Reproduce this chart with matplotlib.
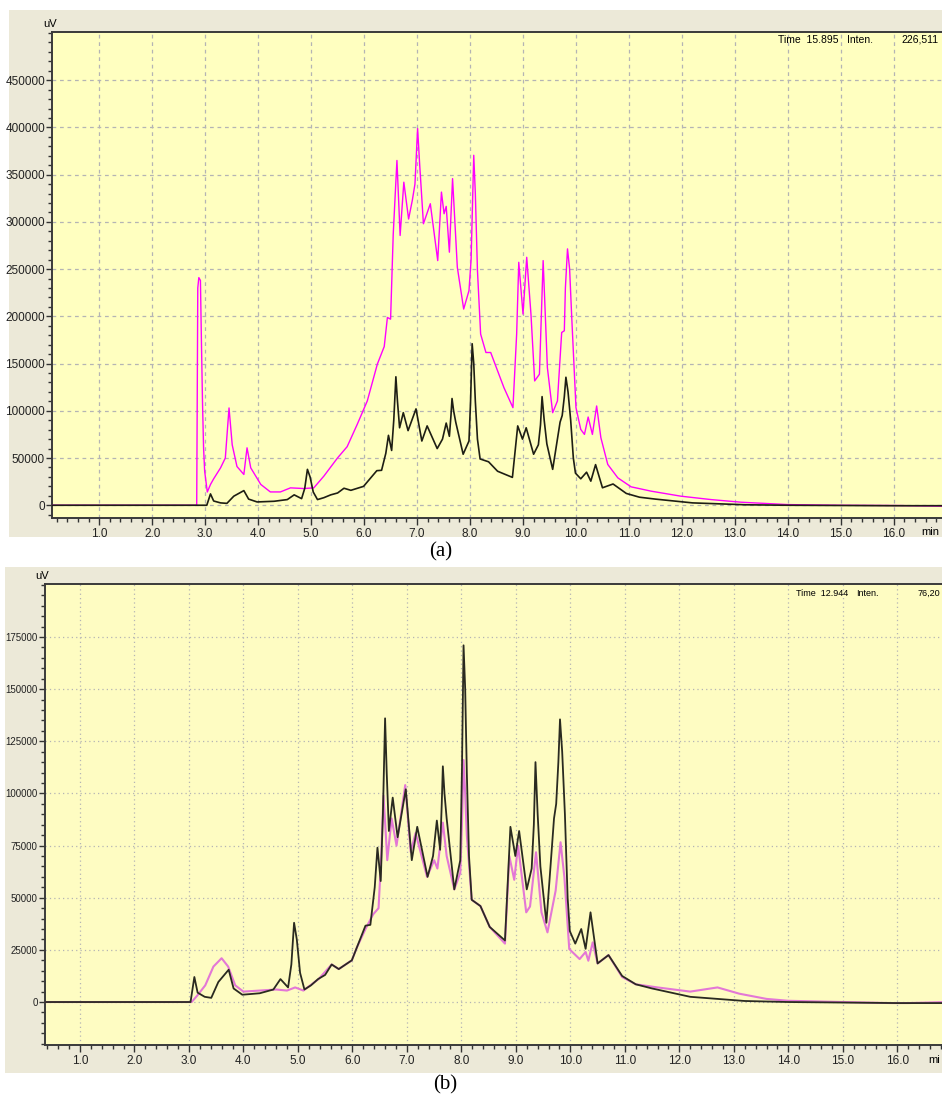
import matplotlib
matplotlib.use("Agg")
import matplotlib.pyplot as plt
from matplotlib.patches import Rectangle
from matplotlib.ticker import MultipleLocator, FixedLocator, FormatStrFormatter

# Black trace (shared by both chromatograms), time in min, intensity in uV
black_t = [0.0, 3.03, 3.10, 3.16, 3.29, 3.41, 3.54, 3.73, 3.82, 3.98, 4.30, 4.55, 4.68,
           4.82, 4.88, 4.93, 4.98, 5.04, 5.12, 5.24, 5.37, 5.50, 5.62, 5.75, 5.99, 6.08, 6.24, 6.33,
           6.41, 6.46, 6.52, 6.56, 6.60, 6.63, 6.67, 6.74, 6.83, 6.98, 7.09, 7.19, 7.38, 7.48, 7.55,
           7.61, 7.64, 7.66, 7.69, 7.73, 7.87, 7.98, 8.01, 8.04, 8.07, 8.10, 8.14, 8.19, 8.35, 8.52,
           8.80, 8.90, 8.99, 9.06, 9.20, 9.29, 9.33, 9.36, 9.40, 9.45, 9.56, 9.70, 9.74, 9.78, 9.81,
           9.85, 9.90, 9.95, 9.99, 10.09, 10.20, 10.28, 10.37, 10.50, 10.70, 10.95, 11.20, 11.50,
           12.20, 13.20, 14.00, 16.00, 16.90]
black_v = [0, 0, 12000, 4500, 2500, 2000, 9600, 15500, 6500, 3500, 4200, 6000, 11000,
           7000, 18000, 38000, 30000, 14000, 6000, 8000, 11000, 13000, 18000, 15800, 20000, 26000, 36600, 37000,
           55000, 74000, 58000, 90000, 136000, 110000, 82000, 98000, 79000, 102000, 68000, 84000, 60000, 70000, 87000,
           73000, 95000, 113000, 100000, 88000, 54000, 68000, 110000, 171000, 150000, 110000, 70000, 49000, 46000, 36000,
           29500, 84000, 70000, 82000, 54000, 64000, 85000, 115000, 90000, 65000, 38000, 88000, 95000, 115000, 135500,
           120000, 90000, 50000, 34000, 28000, 35000, 25500, 43000, 18500, 22500, 12500, 8500, 6500,
           2500, 500, 0, -500, -500]

# Magenta trace, panel (a)
mag_t = [0.0, 2.84, 2.86, 2.88, 2.91, 2.93, 2.95, 2.97, 2.99, 3.04, 3.10, 3.16, 3.29, 3.38, 3.45,
         3.51, 3.60, 3.73, 3.79, 3.86, 4.05, 4.23, 4.42, 4.61, 4.86, 5.05, 5.24, 5.50, 5.68, 5.87,
         6.06, 6.25, 6.38, 6.44, 6.50, 6.55, 6.62, 6.68, 6.75, 6.84, 6.91, 6.96, 7.01, 7.05, 7.12,
         7.25, 7.39, 7.46, 7.51, 7.55, 7.61, 7.67, 7.76, 7.88, 7.98, 8.02, 8.07, 8.10, 8.14, 8.20,
         8.30, 8.39, 8.52, 8.64, 8.81, 8.88, 8.92, 9.00, 9.07, 9.15, 9.22, 9.31, 9.38, 9.46, 9.56,
         9.65, 9.73, 9.78, 9.80, 9.84, 9.88, 9.92, 10.00, 10.09, 10.16, 10.23, 10.31, 10.39, 10.47,
         10.60, 10.79, 11.04, 11.42, 11.98, 12.55, 13.12, 14.00, 14.95, 16.10, 16.90]
mag_v = [0, 0, 230000, 241000, 238000, 170000, 107000, 60000, 36000, 14000, 22000, 28000, 39600, 50000, 103000,
         64000, 41000, 32600, 60800, 39600, 22000, 14100, 14100, 18400, 17700, 18400, 30800, 50200, 62000, 85600,
         110400, 149400, 168000, 198800, 197000, 287000, 365000, 285600, 342000, 303000, 322700, 340000, 398800, 360000, 298000,
         319200, 259000, 331500, 308600, 316400, 267900, 345800, 251900, 207700, 227200, 260000, 370500, 330000, 248400, 181200,
         161700, 161700, 142300, 124500, 103300, 181200, 257200, 202400, 262500, 202400, 131600, 138700, 259000, 145800, 98000,
         110400, 182900, 184700, 230000, 271400, 250000, 198800, 103300, 80300, 75000, 93400, 75000, 105100, 71500,
         43200, 29000, 19500, 14900, 9600, 6000, 3200, 700, 0, -300, -1000]

# Pink trace, panel (b)
pink_t = [0.0, 3.05, 3.15, 3.30, 3.45, 3.60, 3.72, 3.85, 4.00, 4.30, 4.60, 4.80, 4.95, 5.10,
          5.38, 5.62, 5.75, 5.99, 6.08, 6.24, 6.38, 6.48, 6.53, 6.57, 6.61, 6.64, 6.72, 6.81, 6.97, 7.07,
          7.16, 7.37, 7.50, 7.56, 7.66, 7.73, 7.87, 7.98, 8.01, 8.04, 8.07, 8.10, 8.19, 8.35, 8.52, 8.80,
          8.88, 8.97, 9.04, 9.19, 9.26, 9.37, 9.47, 9.58, 9.73, 9.82, 9.89, 9.98, 10.17, 10.28,
          10.33, 10.41, 10.50, 10.70, 10.95, 11.20, 11.60, 12.20, 12.70, 13.10, 13.60, 14.00,
          15.00, 15.90, 16.20, 16.90]
pink_v = [0, 0, 3000, 8000, 17000, 21000, 17000, 8000, 5000, 5500, 6000, 5500, 7000, 5500,
          11000, 18000, 15800, 20000, 26000, 35000, 42000, 45000, 70000, 99000, 82000, 68000, 88000, 75000, 104000, 72000,
          81000, 60000, 68000, 64000, 86000, 70000, 54000, 62000, 85000, 116000, 100000, 80000, 49000, 46000, 36000, 28000,
          70000, 58600, 75000, 43000, 45800, 71800, 43000, 33400, 53400, 76600, 60000, 25400, 20600, 24000,
          19800, 28600, 18500, 22500, 12000, 8500, 7000, 5000, 7000, 4000, 1500, 600,
          0, -500, -500, 0]

W, H = 942, 1099
fig = plt.figure(figsize=(W / 100, H / 100), dpi=100)
fig.patch.set_facecolor("white")

tick_font = ["Liberation Sans Narrow", "Liberation Sans", "DejaVu Sans"]
frame_color = "#ece9d8"


def px_box(x0, y0, x1, y1):
    # pixel box (top-left origin) -> figure fraction [left, bottom, width, height]
    return [x0 / W, 1 - y1 / H, (x1 - x0) / W, (y1 - y0) / H]


def setup_axis(ax, xlim, ylim, yticks, yminor, grid_ls, bg, ysize):
    ax.set_facecolor(bg)
    ax.set_xlim(*xlim)
    ax.set_ylim(*ylim)
    ax.xaxis.set_major_locator(FixedLocator([float(v) for v in range(1, 17)]))
    ax.xaxis.set_minor_locator(MultipleLocator(0.2))
    ax.xaxis.set_major_formatter(FormatStrFormatter("%.1f"))
    ax.yaxis.set_major_locator(FixedLocator(yticks))
    ax.yaxis.set_minor_locator(MultipleLocator(yminor))
    ax.yaxis.set_major_formatter(FormatStrFormatter("%d"))
    ax.grid(True, which="major", color="#b4b4b4", linestyle=grid_ls, linewidth=0.9)
    ax.set_axisbelow(True)
    for s in ("left", "bottom", "top"):
        ax.spines[s].set_color("#3a3a3a")
        ax.spines[s].set_linewidth(1.4)
    ax.spines["right"].set_visible(False)
    ax.tick_params(which="major", length=5, width=1, color="#333333", pad=2,
                   labelsize=8.5, labelcolor="#222222")
    ax.tick_params(axis="y", which="major", length=4, pad=1, labelsize=ysize)
    ax.tick_params(which="minor", length=3, width=1, color="#333333")
    for lab in ax.get_xticklabels() + ax.get_yticklabels():
        lab.set_family(tick_font)


# ---------- panel (a) ----------
fig.add_artist(Rectangle((9 / W, 1 - 537 / H), 933 / W, 527 / H,
                         transform=fig.transFigure, facecolor=frame_color,
                         edgecolor="none", zorder=0))
ax1 = fig.add_axes(px_box(52, 32, 942, 518))
setup_axis(ax1, (0.108, 16.91), (-13500, 501000), list(range(0, 450001, 50000)), 10000,
           (0, (3, 3)), "#ffffc0", 8.5)
ax1.plot(mag_t, mag_v, color="#ff00ff", lw=1.0, zorder=3)
ax1.plot(black_t, black_v, color="#1e1e14", lw=1.2, zorder=4)
fig.text(50 / W, 1 - 24 / H, "uV", ha="center", va="center", fontsize=8, family=tick_font)
fig.text(778 / W, 1 - 40 / H, "Time  15.895", ha="left", va="center", fontsize=7.5, family=tick_font)
fig.text(847 / W, 1 - 40 / H, "Inten.", ha="left", va="center", fontsize=7.5, family=tick_font)
fig.text(939 / W, 1 - 40 / H, "226,511", ha="right", va="center", fontsize=7.5, family=tick_font)
fig.text(939 / W, 1 - 532 / H, "min", ha="right", va="center", fontsize=8, family=tick_font)
fig.text(441 / W, 1 - 552 / H, "(a)", ha="center", va="center", fontsize=15, family="Liberation Serif")

# ---------- panel (b) ----------
fig.add_artist(Rectangle((5 / W, 1 - 1073 / H), 937 / W, 506 / H,
                         transform=fig.transFigure, facecolor=frame_color,
                         edgecolor="none", zorder=0))
ax2 = fig.add_axes(px_box(44.5, 584, 942, 1045))
setup_axis(ax2, (0.35, 16.82), (-20600, 200400), list(range(0, 175001, 25000)), 5000,
           (0, (1, 2.5)), "#fefcc2", 7.0)
ax2.plot(pink_t, pink_v, color="#e377d6", lw=1.5, zorder=3)
ax2.plot(black_t, black_v, color="#2a2a20", lw=1.3, zorder=4)
fig.text(42 / W, 1 - 576 / H, "uV", ha="center", va="center", fontsize=8, family=tick_font)
fig.text(796 / W, 1 - 593 / H, "Time  12.944", ha="left", va="center", fontsize=6.5, family=tick_font)
fig.text(856 / W, 1 - 593 / H, "Inten.", ha="left", va="center", fontsize=6.5, family=tick_font)
fig.text(940 / W, 1 - 593 / H, "76,20", ha="right", va="center", fontsize=6.5, family=tick_font)
fig.text(940 / W, 1 - 1060 / H, "mi", ha="right", va="center", fontsize=8, family=tick_font)
fig.text(445 / W, 1 - 1085 / H, "(b)", ha="center", va="center", fontsize=15, family="Liberation Serif")

fig.savefig("out.png", dpi=100)
